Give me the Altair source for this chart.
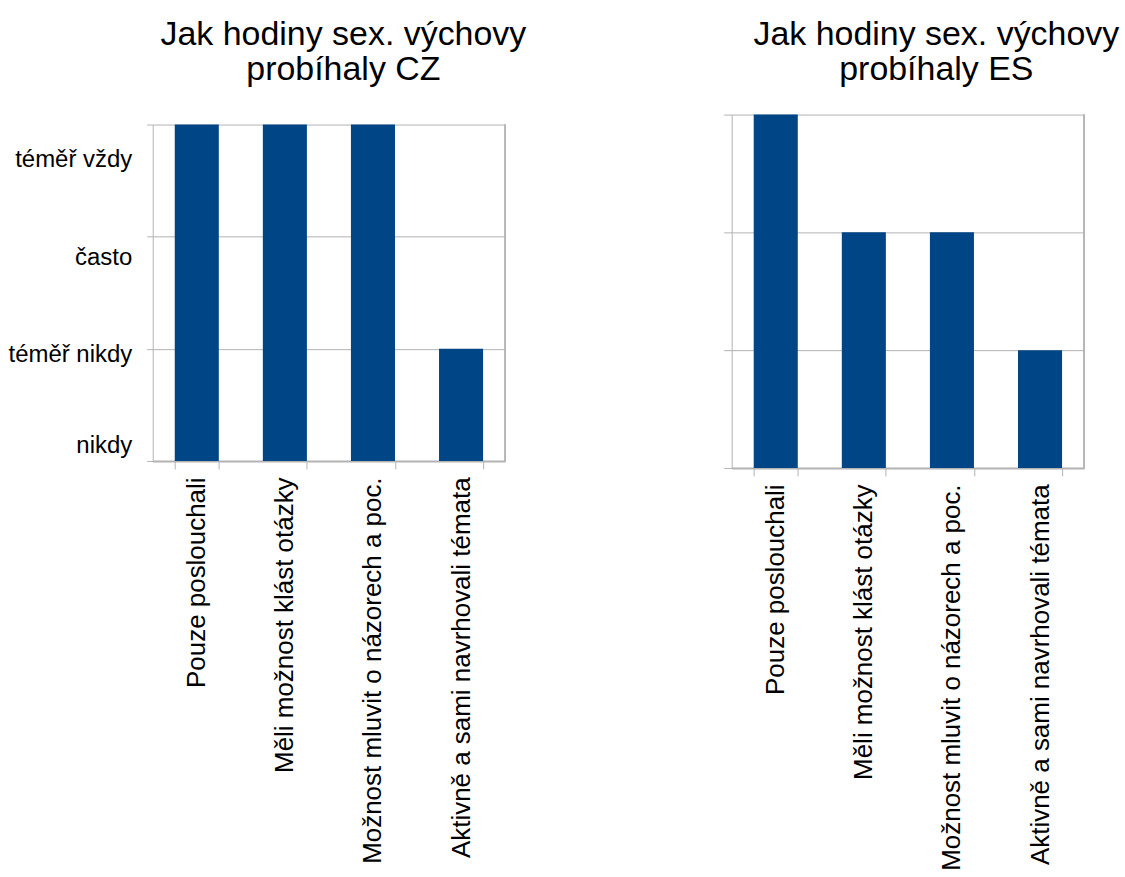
import json
import altair as alt
import pandas as pd

categories = [
    "Pouze poslouchali",
    "Měli možnost klást otázky",
    "Možnost mluvit o názorech a poc.",
    "Aktivně a sami navrhovali témata",
]
cz_values = [3, 3, 3, 1]
es_values = [3, 2, 2, 1]
level_values = [0, 1, 2, 3]
level_labels = ["nikdy", "téměř nikdy", "často", "téměř vždy"]
title_cz = ["Jak hodiny sex. výchovy", "probíhaly CZ"]
title_es = ["Jak hodiny sex. výchovy", "probíhaly ES"]

FONT = "Liberation Sans"
GRAY = "#b3b3b3"
BAR = "#004586"

label_expr = json.dumps(level_labels, ensure_ascii=False) + "[datum.value]"


def panel(values, title, height, top_gap, show_labels, tick_size, offset, dx):
    df = pd.DataFrame({"cat": categories, "val": values})
    x = alt.X(
        "cat:N",
        sort=categories,
        title=None,
        scale=alt.Scale(paddingInner=0.5, paddingOuter=0.25),
        axis=alt.Axis(
            labelAngle=-90,
            labelFontSize=26,
            labelFont=FONT,
            labelColor="black",
            tickBand="extent",
            tickSize=8,
            tickColor=GRAY,
            domainColor=GRAY,
            domainWidth=2,
            labelPadding=8,
            grid=False,
            labelLimit=0,
        ),
    )
    yaxis_kw = dict(
        values=level_values,
        grid=True,
        gridColor=GRAY,
        tickColor=GRAY,
        domainColor=GRAY,
        tickSize=tick_size,
        title=None,
        labels=show_labels,
    )
    if show_labels:
        yaxis_kw.update(
            labelExpr=label_expr,
            labelFontSize=24,
            labelFont=FONT,
            labelColor="black",
            labelPadding=15,
            labelOffset={"expr": "datum.value == 3 ? 35 : datum.value == 2 ? 21 : datum.value == 1 ? 6 : -15"},
        )
    y = alt.Y(
        "val:Q",
        scale=alt.Scale(domain=[0, 3], nice=False, range=[height, top_gap]),
        axis=alt.Axis(**yaxis_kw),
    )
    base = alt.Chart(df)
    bars = base.mark_bar(color=BAR).encode(x=x, y=y)
    border = base.mark_rule(color=GRAY, strokeWidth=1).encode(
        x=alt.value(353), y=alt.datum(0), y2=alt.datum(3)
    )
    return alt.layer(bars, border).properties(
        width=353,
        height=height,
        view=alt.ViewBackground(stroke="transparent"),
        title=alt.TitleParams(
            text=title,
            font=FONT,
            fontSize=34,
            fontWeight="normal",
            color="black",
            anchor="middle",
            frame="group",
            dx=dx,
            offset=offset,
            lineHeight=35,
        ),
    )


left = panel(cz_values, title_cz, 347, 10, True, 6, 28, 14.5)
right = panel(es_values, title_es, 354, 0, False, 8, 27, 28.5)

chart = (
    alt.hconcat(left, right, spacing=191)
    .properties(padding={"left": 7, "top": 16, "right": 5, "bottom": 5})
    .configure_view(stroke=GRAY)
    .configure(background="white")
)

chart.save("out.html", embed_options={"renderer": "svg", "actions": False})
